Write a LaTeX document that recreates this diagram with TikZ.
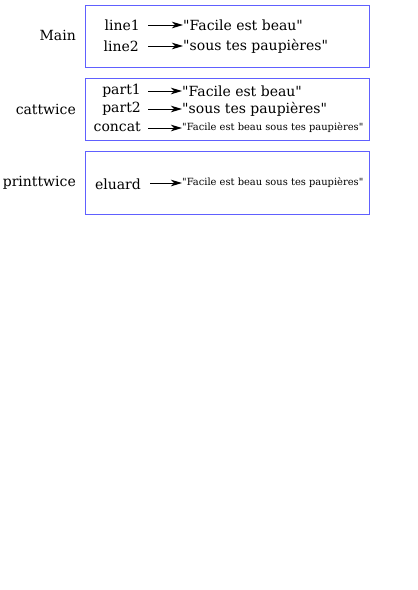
\documentclass[tikz,border=0pt]{standalone}
\usepackage{fontspec}
\setmainfont{DejaVu Serif}[Ligatures=TeXOff]
\usetikzlibrary{arrows.meta}
\definecolor{framebl}{RGB}{96,96,255}
\begin{document}
\begin{tikzpicture}[x=1pt,y=-1pt,
  frame/.style={draw=framebl,line width=1pt},
  varname/.style={anchor=east,inner sep=0pt,font=\fontsize{14}{15}\selectfont},
  frname/.style={anchor=east,inner sep=0pt,font=\fontsize{14}{15}\selectfont},
  val/.style={anchor=west,inner sep=0pt,font=\fontsize{14}{15}\selectfont},
  sval/.style={anchor=west,inner sep=0pt,font=\fontsize{9.9}{10}\selectfont},
  ptr/.style={-{Stealth[length=11pt,width=6.5pt,inset=3pt]},line width=0.9pt}]
\useasboundingbox (0,0) rectangle (418,590);
% frames
\draw[frame] (85.5,151.5) rectangle (369.5,214.5);
\draw[frame] (85.5,78.5) rectangle (369.5,140.5);
\draw[frame] (85.5,5.5) rectangle (369.5,67.5);
% frame names
\node[frname] (fmain) at (76,35) {Main};
\node[frname] (fcat) at (76,109) {cattwice};
\node[frname] (fprint) at (76,183) {printtwice};
% Main
\node[varname] (line1) at (140,25) {line1};
\node[val] (v1) at (183,25) {"Facile est beau"};
\node[varname] (line2) at (139,46) {line2};
\node[val] (v2) at (183,46) {"sous tes paupières"};
\coordinate (a1) at (148,25); \draw[ptr] (a1) -- (v1.west);
\coordinate (a2) at (148,46); \draw[ptr] (a2) -- (v2.west);
% cattwice
\node[varname] (p1) at (141,91) {part1};
\node[val] (w1) at (182,91) {"Facile est beau"};
\node[varname] (p2) at (141,109) {part2};
\node[val] (w2) at (182,109) {"sous tes paupières"};
\node[varname] (cc) at (141,127) {concat};
\node[sval] (w3) at (182,128) {"Facile est beau sous tes paupières"};
\coordinate (b1) at (148,91); \draw[ptr] (b1) -- (w1.west);
\coordinate (b2) at (148,109); \draw[ptr] (b2) -- (w2.west);
\coordinate (b3) at (148,128); \draw[ptr] (b3) -- (w3.west);
% printtwice
\node[varname] (el) at (141,184) {eluard};
\node[sval] (u1) at (182,183) {"Facile est beau sous tes paupières"};
\coordinate (c1) at (150,183); \draw[ptr] (c1) -- (u1.west);
\end{tikzpicture}
\end{document}
